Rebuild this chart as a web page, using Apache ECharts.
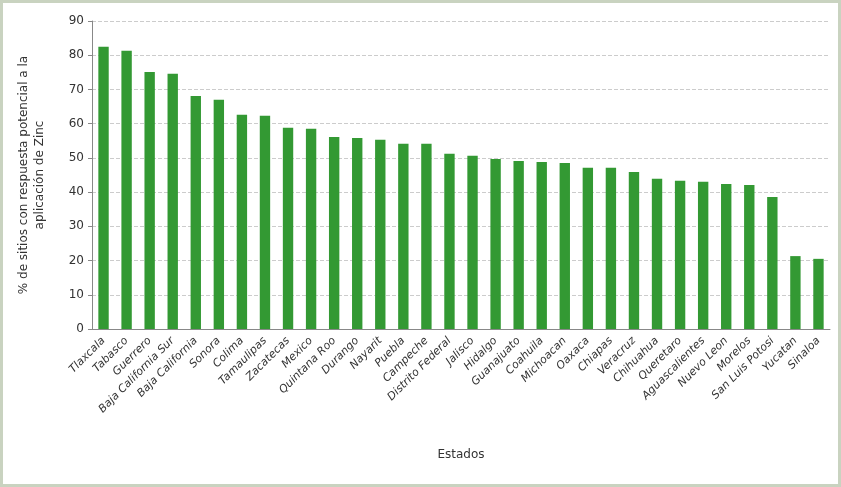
<!DOCTYPE html>
<html><head><meta charset="utf-8">
<script src="https://cdn.jsdelivr.net/npm/echarts@6/dist/echarts.min.js"></script>
<style>html,body{margin:0;padding:0;background:#fff}#c{width:841px;height:487px;box-sizing:border-box;border:3px solid #c9d3c0}</style>
</head><body><div id="c"></div>
<script>
var estados = ['Tlaxcala','Tabasco','Guerrero','Baja California Sur','Baja California','Sonora','Colima','Tamaulipas','Zacatecas','Mexico','Quintana Roo','Durango','Nayarit','Puebla','Campeche','Distrito Federal','Jalisco','Hidalgo','Guanajuato','Coahuila','Michoacan','Oaxaca','Chiapas','Veracruz','Chihuahua','Queretaro','Aguascalientes','Nuevo Leon','Morelos','San Luis Potosi','Yucatan','Sinaloa'];
var porcentajes = [82.5,81.3,75.1,74.6,68.1,67,62.6,62.3,58.8,58.5,56.1,55.8,55.3,54.1,54.1,51.2,50.6,49.7,49.1,48.8,48.5,47.1,47.1,45.9,43.9,43.3,43,42.4,42.1,38.6,21.3,20.5];

var chart = echarts.init(document.getElementById('c'));
chart.setOption({
	textStyle: {fontFamily: 'DejaVu Sans'},
	grid: {left: 89, right: 8, top: 18, bottom: 155},
	xAxis: {
		type: 'category',
		data: estados,
		name: 'Estados',
		nameLocation: 'middle',
		nameGap: 120,
		nameTextStyle: {fontSize: 12, color: '#333'},
		axisLine: {lineStyle: {color: '#888'}},
		axisTick: {show: false},
		axisLabel: {rotate: 45, interval: 0, fontSize: 11, color: '#333', fontStyle: 'italic', margin: 10}
	},
	yAxis: {
		type: 'value',
		min: 0, max: 90, interval: 10,
		name: '% de sitios con respuesta potencial a la\naplicación de Zinc',
		nameLocation: 'middle',
		nameGap: 44,
		nameTextStyle: {fontSize: 12, color: '#333', lineHeight: 16},
		axisLine: {show: true, lineStyle: {color: '#888'}},
		axisTick: {show: true, length: 4, lineStyle: {color: '#888'}},
		axisLabel: {fontSize: 12, color: '#333'},
		splitLine: {lineStyle: {color: '#ccc', type: 'dashed'}}
	},
	series: [{
		type: 'bar',
		data: porcentajes,
		barWidth: '45%',
		itemStyle: {color: '#339933'}
	}]
});
</script></body></html>
